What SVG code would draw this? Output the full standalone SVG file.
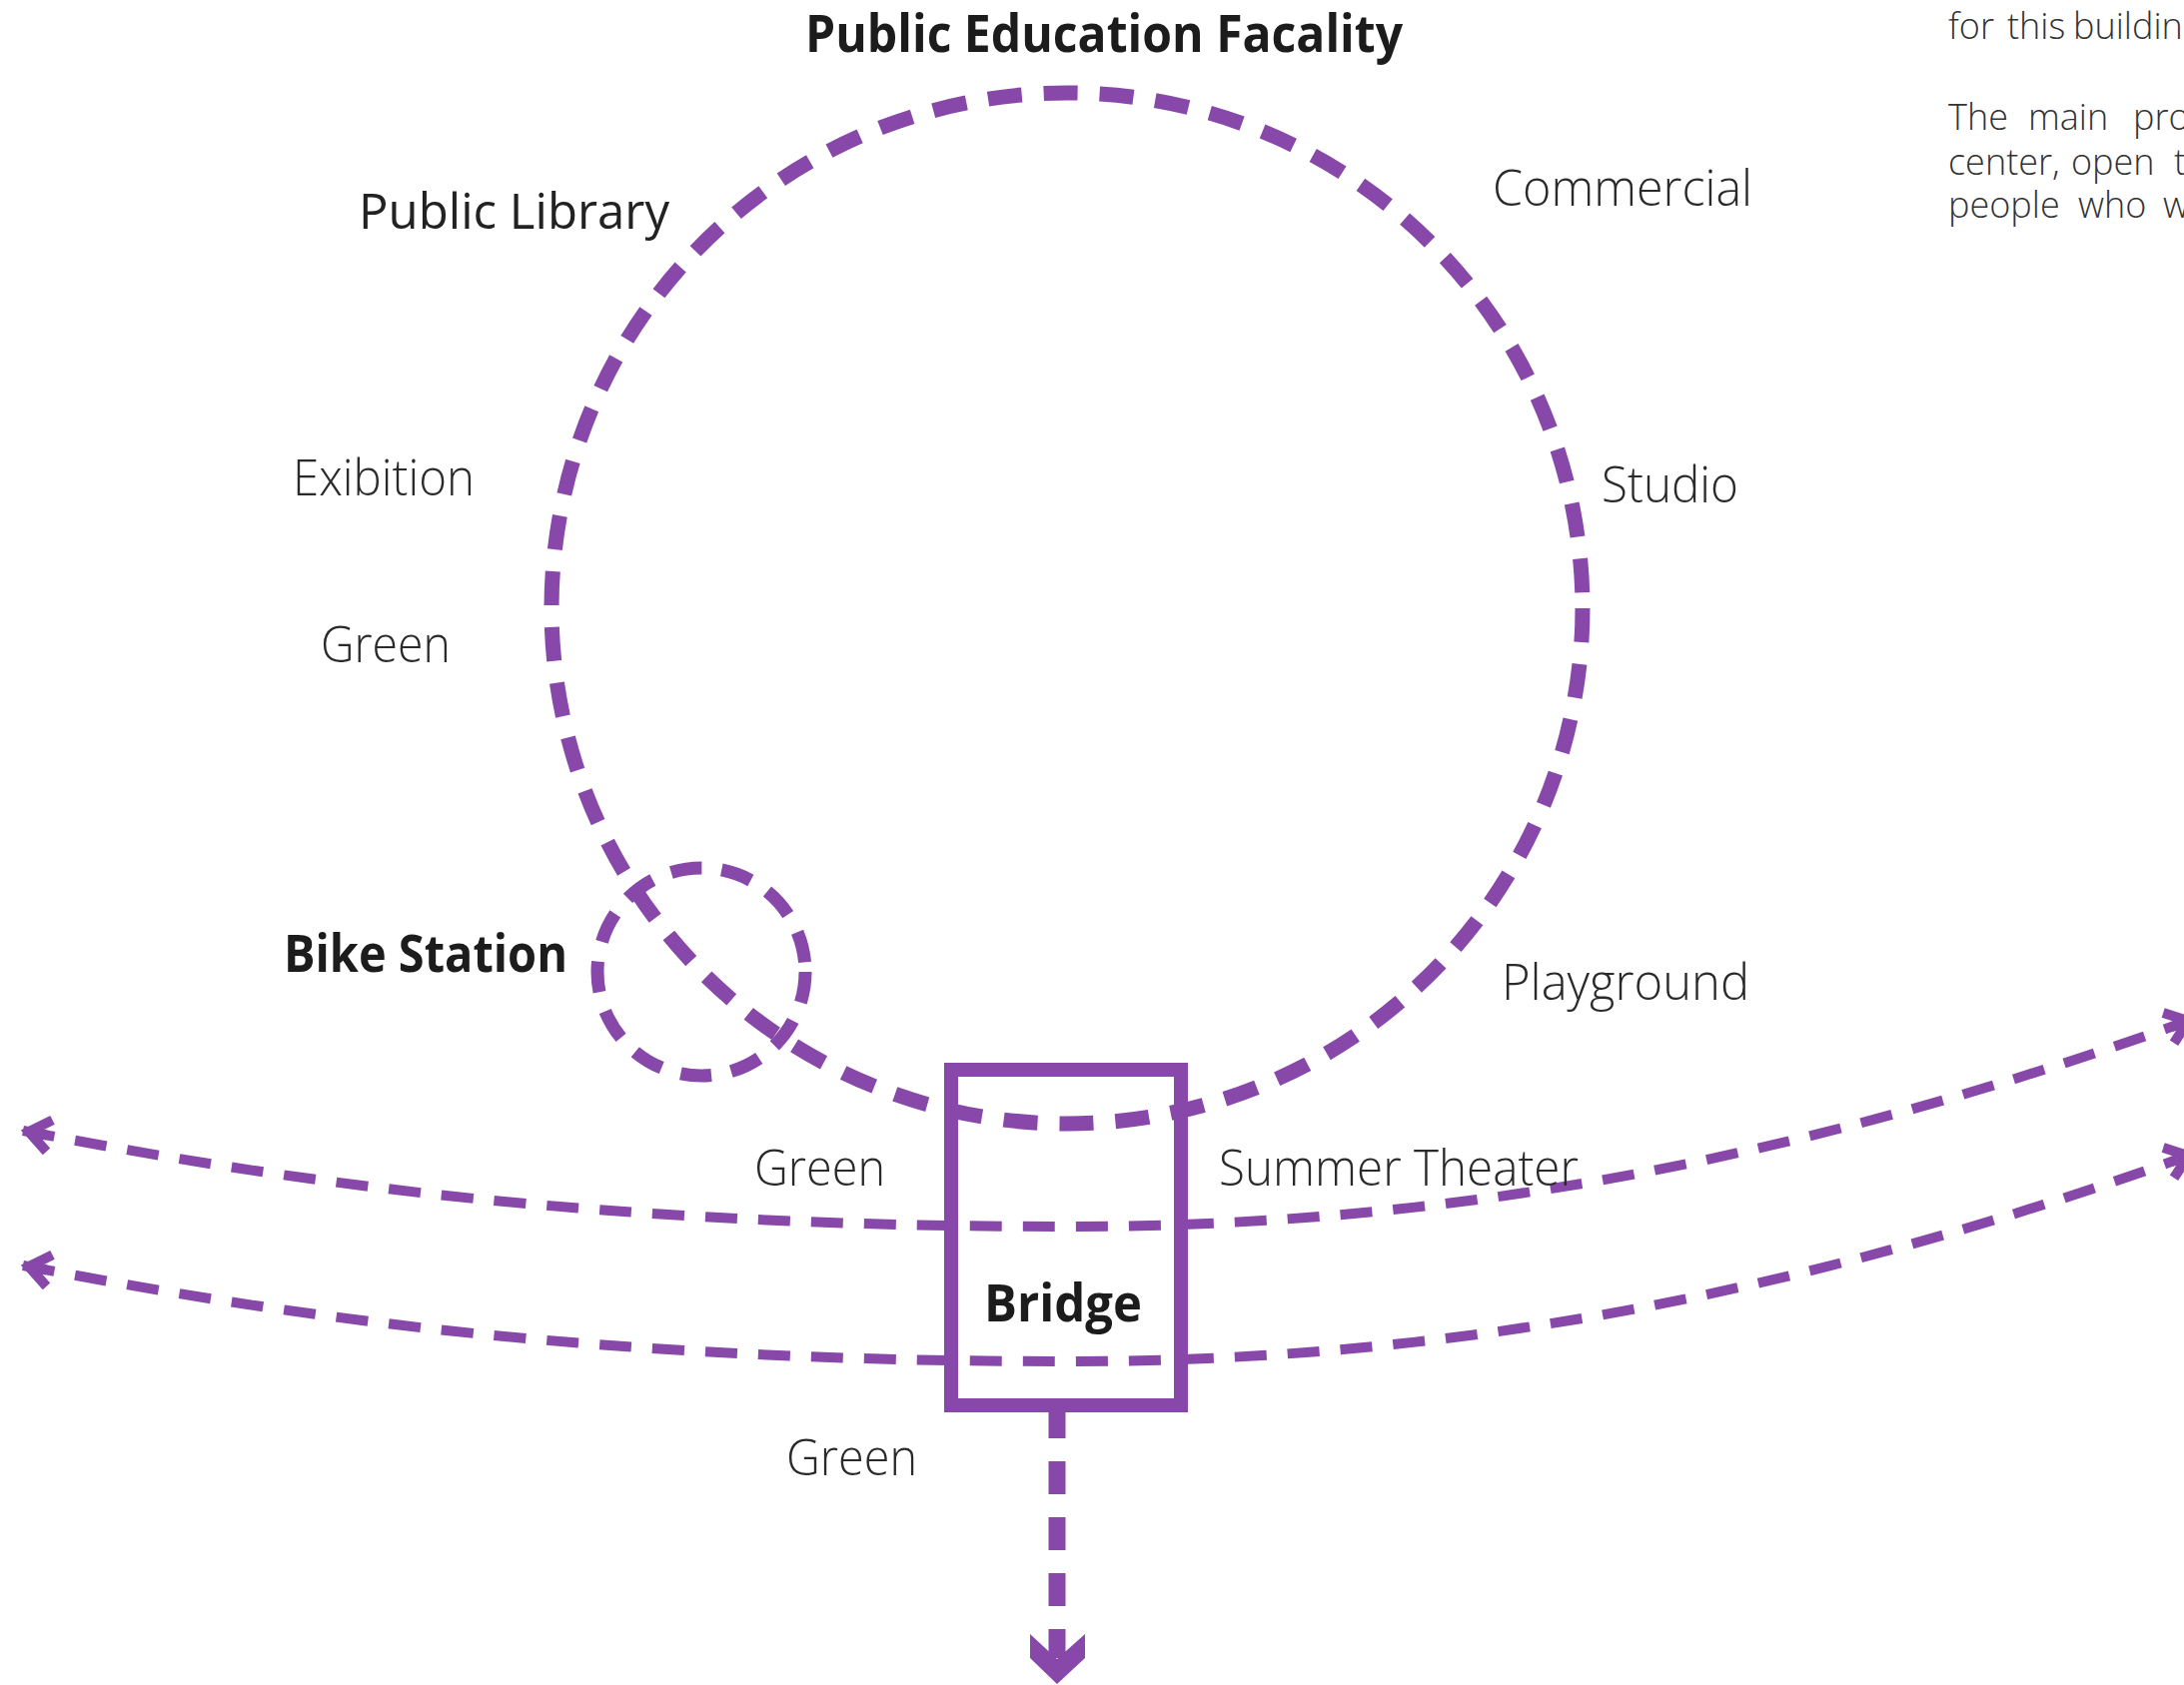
<svg xmlns="http://www.w3.org/2000/svg" width="2186" height="1687" viewBox="0 0 2186 1687">
<style>
.lbl{font-family:"Open Sans","Noto Sans","Liberation Sans",sans-serif;font-weight:300;font-size:50px;fill:#2a2a2a}
.reg{font-family:"Open Sans","Noto Sans","Liberation Sans",sans-serif;font-weight:400;font-size:50px;fill:#222}
.bold{font-family:"Open Sans","Noto Sans","Liberation Sans",sans-serif;font-weight:700;font-size:52px;fill:#1c1c1c}
.para{font-family:"Open Sans","Noto Sans","Liberation Sans",sans-serif;font-weight:300;font-size:36px;fill:#333}
.loop{fill:none;stroke:#8748AA;stroke-width:15;stroke-dasharray:34 22}
.bike{fill:none;stroke:#8748AA;stroke-width:13;stroke-dasharray:31 20}
.path{fill:none;stroke:#8748AA;stroke-width:10;stroke-dasharray:32 21}
</style>
<defs>
<marker id="ah" markerUnits="userSpaceOnUse" viewBox="-40 -25 50 50" markerWidth="50" markerHeight="50" refX="0" refY="0" orient="auto-start-reverse" overflow="visible">
<path d="M-24,0 L-6,0" stroke="#8748AA" stroke-width="10" fill="none"/>
<path d="M-27,-16 L-6,0 L-27,16" fill="none" stroke="#8748AA" stroke-width="10" stroke-linejoin="miter"/>
</marker>
</defs>
<rect width="2186" height="1687" fill="#ffffff"/>

<g id="paragraph">
<text class="para" y="39"><tspan x="1950">for</tspan> <tspan x="2009">this</tspan> <tspan x="2075">buildin</tspan></text>
<text class="para" y="130"><tspan x="1950">The</tspan> <tspan x="2030">main</tspan> <tspan x="2135">pro</tspan></text>
<text class="para" y="175"><tspan x="1950">center,</tspan> <tspan x="2073">open</tspan> <tspan x="2176">t</tspan></text>
<text class="para" y="218"><tspan x="1950">people</tspan> <tspan x="2080">who</tspan> <tspan x="2165">w</tspan></text>
</g>

<g id="connectors">
<path class="path" d="M23,1132 C300,1185 600,1228 1068,1228 C1450,1228 1800,1162 2196,1020" marker-start="url(#ah)" marker-end="url(#ah)"/>
<path class="path" d="M23,1267 C300,1320 600,1363 1068,1363 C1450,1363 1800,1297 2196,1155" marker-start="url(#ah)" marker-end="url(#ah)"/>
<path d="M1058,1407 L1058,1660" fill="none" stroke="#8748AA" stroke-width="17" stroke-dasharray="33 23"/>
<polygon points="1031,1636 1058,1661 1086,1636 1086,1660 1058,1686 1031,1660" fill="#8748AA"/>
</g>

<g id="node-public-education-loop">
<circle class="loop" cx="1068" cy="609" r="516"/>
</g>

<g id="node-bike-station">
<circle class="bike" cx="702" cy="973" r="104"/>
<text class="bold" x="284" y="973" textLength="284" lengthAdjust="spacingAndGlyphs">Bike Station</text>
</g>

<g id="node-bridge">
<rect x="952" y="1071" width="230" height="336" fill="none" stroke="#8748AA" stroke-width="14"/>
<text class="bold" x="985" y="1323" font-size="50" textLength="158" lengthAdjust="spacingAndGlyphs">Bridge</text>
</g>

<g id="node-title">
<text class="bold" x="806" y="52" textLength="598" lengthAdjust="spacingAndGlyphs">Public Education Facality</text>
</g>

<g id="node-public-library">
<text class="reg" x="359" y="229" textLength="311" lengthAdjust="spacingAndGlyphs">Public Library</text>
</g>
<g id="node-exibition">
<text class="lbl" x="293" y="496" textLength="182" lengthAdjust="spacingAndGlyphs">Exibition</text>
</g>
<g id="node-green-left">
<text class="lbl" x="321" y="663" textLength="130" lengthAdjust="spacingAndGlyphs">Green</text>
</g>
<g id="node-commercial">
<text class="lbl" x="1494" y="206" textLength="260" lengthAdjust="spacingAndGlyphs">Commercial</text>
</g>
<g id="node-studio">
<text class="lbl" x="1603" y="503" textLength="137" lengthAdjust="spacingAndGlyphs">Studio</text>
</g>
<g id="node-playground">
<text class="lbl" x="1503" y="1001" textLength="248" lengthAdjust="spacingAndGlyphs">Playground</text>
</g>
<g id="node-summer-theater">
<text class="lbl" x="1220" y="1187" textLength="360" lengthAdjust="spacingAndGlyphs">Summer Theater</text>
</g>
<g id="node-green-bridge">
<text class="lbl" x="755" y="1187" textLength="131" lengthAdjust="spacingAndGlyphs">Green</text>
</g>
<g id="node-green-bottom">
<text class="lbl" x="787" y="1477" textLength="131" lengthAdjust="spacingAndGlyphs">Green</text>
</g>
</svg>
